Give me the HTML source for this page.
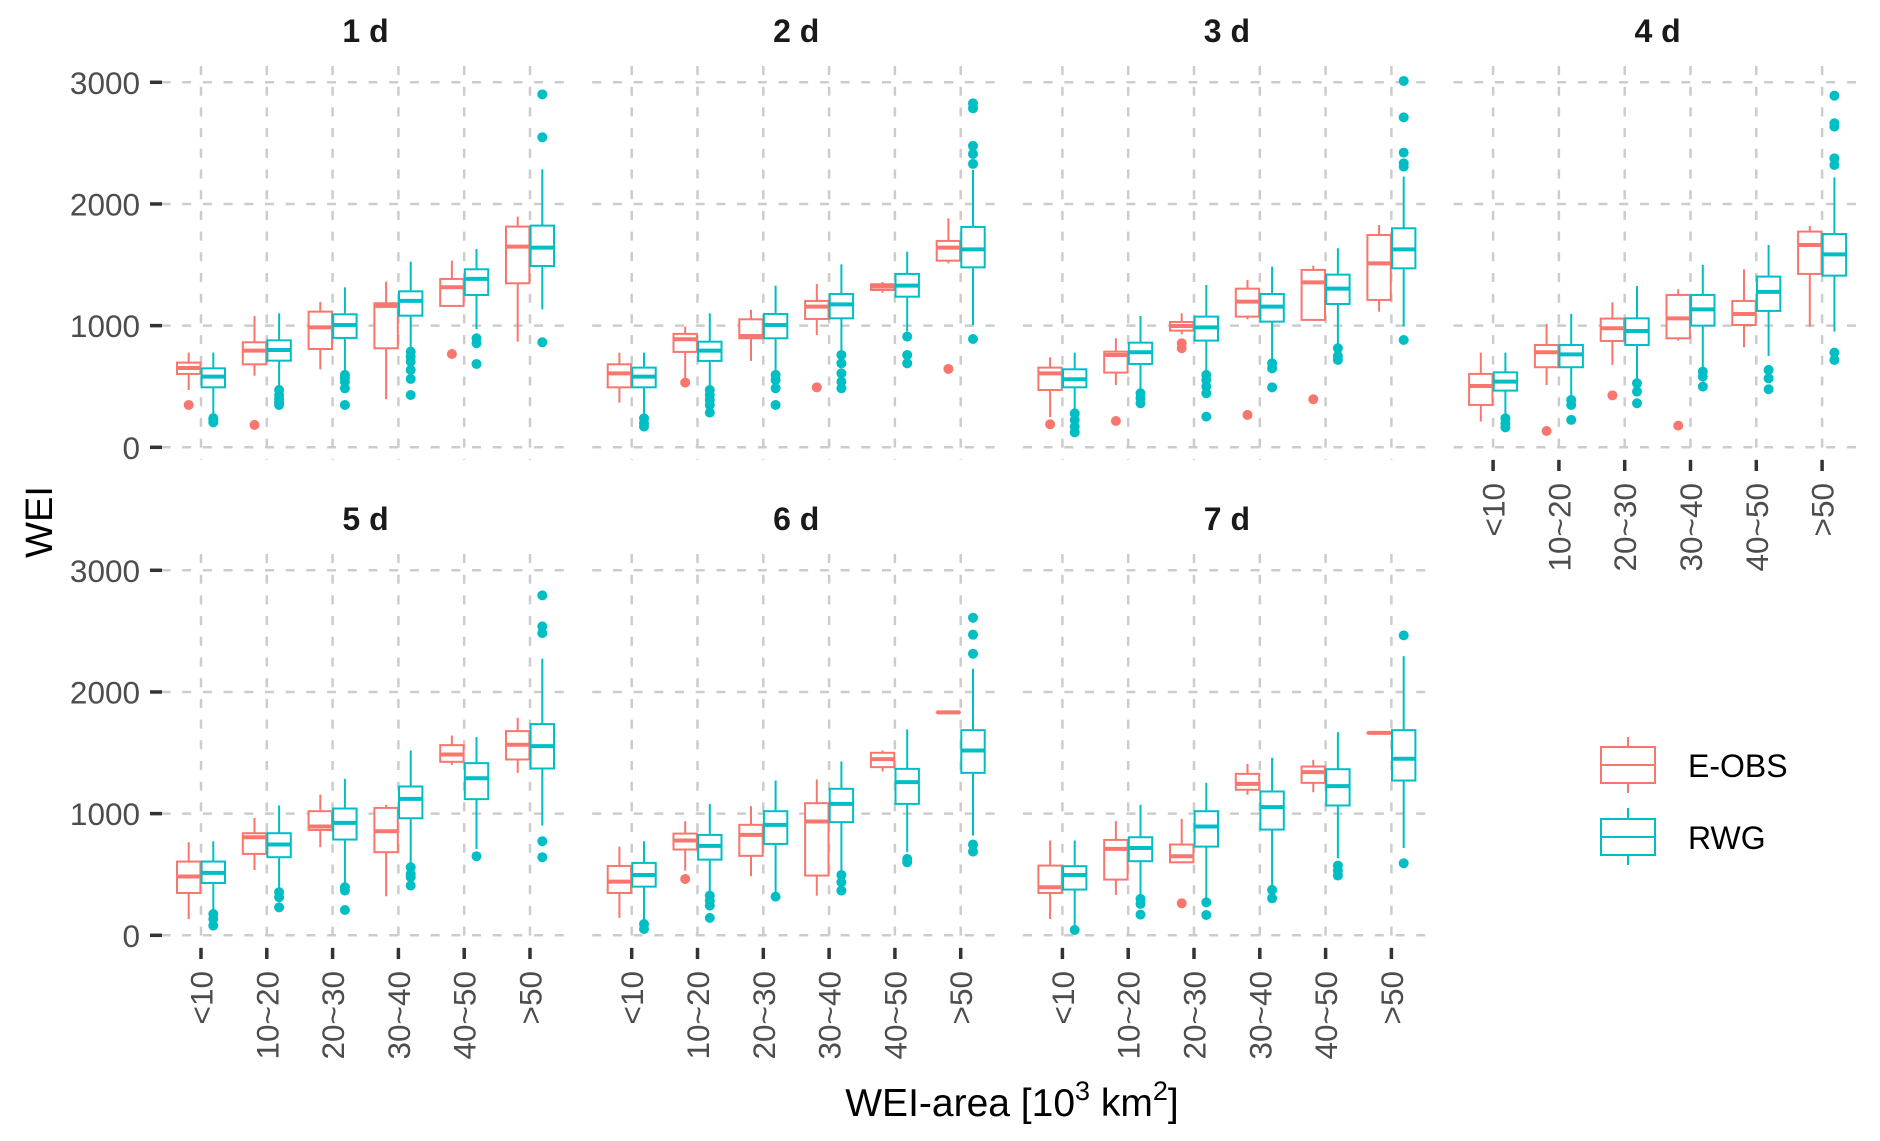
<!DOCTYPE html>
<html><head><meta charset="utf-8"><title>WEI boxplots</title>
<style>
html,body{margin:0;padding:0;background:#fff;}
svg{display:block;font-family:"Liberation Sans",Arial,sans-serif;}
</style></head>
<body>
<svg id="chart" xmlns="http://www.w3.org/2000/svg" width="1880" height="1141" viewBox="0 0 1880 1141">
<rect x="0" y="0" width="1880" height="1141" fill="#ffffff"/>
<g id="panels"></g>
<text x="42" y="522" transform="rotate(-90 42 522)" text-anchor="middle" dominant-baseline="middle" font-size="38" fill="#000">WEI</text>
<text x="1012" y="1116" text-anchor="middle" font-size="39" fill="#000">WEI-area [10<tspan dy="-16" font-size="27">3</tspan><tspan dy="16"> km</tspan><tspan dy="-16" font-size="27">2</tspan><tspan dy="16">]</tspan></text>
<g>
  <g>
    <line x1="1628" y1="737" x2="1628" y2="793" stroke="#F8766D" stroke-width="2"/>
    <rect x="1601" y="747" width="54" height="36" fill="#fff" stroke="#F8766D" stroke-width="2"/>
    <line x1="1601" y1="765" x2="1655" y2="765" stroke="#F8766D" stroke-width="2"/>
    <text x="1688" y="777" font-size="32" fill="#000">E-OBS</text>
  </g>
  <g>
    <line x1="1628" y1="808" x2="1628" y2="865" stroke="#00BFC4" stroke-width="2"/>
    <rect x="1601" y="819" width="54" height="36" fill="#fff" stroke="#00BFC4" stroke-width="2"/>
    <line x1="1601" y1="837" x2="1655" y2="837" stroke="#00BFC4" stroke-width="2"/>
    <text x="1688" y="849" font-size="32" fill="#000">RWG</text>
  </g>
</g>
</svg>
<script>
const panelTitles = ["1 d","2 d","3 d","4 d","5 d","6 d","7 d"];
const categories = ["<10","10~20","20~30","30~40","40~50",">50"];
const yTicks = [0,1000,2000,3000];
const yTickLabels = ["0","1000","2000","3000"];

// E-OBS stats per panel: [lowerWhisker, q1, median, q3, upperWhisker] per category
const eobsLow = [[471,589,641,395,1162,868],[367,567,710,923,1271,1512],[247,512,929,1052,1047,1115],[211,512,677,877,822,992],[134,537,724,321,1401,1335],[143,532,485,326,1346,1832],[134,332,600,1155,1176,1664]];
const eobsQ1 = [[603,682,808,814,1162,1348],[493,784,896,1055,1293,1534],[471,614,959,1074,1047,1211],[348,658,874,896,1005,1425],[348,669,866,683,1426,1445],[348,705,653,491,1382,1832],[348,458,600,1196,1253,1664]];
const eobsMed = [[652,795,986,1162,1315,1649],[608,888,915,1156,1321,1641],[608,759,997,1197,1356,1512],[504,781,978,1060,1096,1663],[483,806,894,855,1486,1566],[441,779,825,935,1448,1832],[395,710,650,1245,1341,1664]];
const eobsQ3 = [[696,863,1115,1184,1384,1814],[682,932,1052,1203,1340,1696],[655,786,1030,1304,1458,1745],[603,841,1058,1252,1203,1773],[606,839,1020,1047,1563,1678],[570,836,908,1086,1500,1832],[573,784,746,1327,1387,1664]];
const eobsHigh = [[778,1079,1195,1362,1534,1896],[778,992,1129,1342,1359,1882],[740,896,1101,1375,1493,1827],[778,1014,1192,1299,1463,1819],[765,965,1157,1072,1642,1788],[729,938,1061,1281,1519,1832],[779,938,957,1409,1442,1664]];
const eobsOut = [[[348],[184],[],[],[767],[]],[[],[532],[],[493],[],[644]],[[189],[216],[855,814],[266],[395],[]],[[],[134],[427],[178],[],[]],[[],[],[],[],[],[]],[[],[463],[],[],[],[]],[[],[],[263],[],[],[]]];

// RWG stats per panel
const rwgLow = [[266,499,622,814,970,1134],[250,490,600,780,951,1005],[300,460,610,720,840,992],[255,405,540,640,751,951],[200,380,420,580,710,902],[110,345,340,520,683,820],[60,320,290,400,633,718]];
const rwgQ1 = [[493,712,899,1082,1252,1490],[493,710,896,1060,1238,1479],[493,685,877,1033,1178,1471],[466,658,841,1000,1121,1411],[430,642,787,962,1119,1371],[400,622,751,930,1080,1335],[376,609,729,869,1067,1272]];
const rwgMed = [[581,800,1005,1203,1384,1641],[581,795,1005,1175,1329,1627],[559,781,986,1156,1304,1627],[540,764,956,1134,1277,1586],[513,746,924,1121,1291,1555],[496,735,908,1080,1259,1519],[496,718,894,1053,1226,1451]];
const rwgQ3 = [[649,879,1093,1282,1463,1822],[655,868,1096,1260,1425,1811],[641,860,1074,1260,1419,1800],[616,841,1060,1252,1403,1753],[606,839,1042,1223,1415,1736],[595,825,1020,1204,1368,1686],[568,806,1020,1182,1365,1686]];
const rwgHigh = [[778,1101,1315,1526,1630,2285],[778,1101,1329,1504,1608,2279],[778,1079,1334,1485,1636,2225],[778,1096,1326,1499,1663,2219],[773,1067,1286,1519,1629,2273],[773,1080,1272,1429,1692,2191],[779,1072,1253,1459,1670,2295]];
const rwgOut = [
 [[240,225,205],[471,430,400,370,348],[595,570,540,485,348],[786,745,704,636,562,430],[896,855,685],[2901,2548,863]],
 [[238,197,170],[471,430,389,348,285],[595,553,485,348],[759,690,608,540,485],[910,759,690],[2827,2786,2477,2411,2329,890]],
 [[279,225,170,123],[444,403,362],[595,553,499,444,252],[690,649,493],[814,751,718],[3011,2712,2422,2334,2307,882]],
 [[238,197,164],[389,348,225],[526,458,362],[622,581,499],[636,567,477],[2890,2663,2636,2375,2321,778,718]],
 [[175,134,80],[354,313,230],[395,367,208],[559,505,477,409],[650],[2794,2539,2484,773,642]],
 [[93,52],[326,285,244,143],[318],[496,436,367],[628,600],[2610,2471,2314,746,688]],
 [[44],[299,258,170],[271,167],[373,304],[573,532,491],[2465,592]]
];

const NS = "http://www.w3.org/2000/svg";
const RED = "#F8766D", CYAN = "#00BFC4", GRID = "#cccccc";
const PANEL_LEFT0 = 161.5, PANEL_STEP = 430.7, PANEL_W = 408, CAT_STEP = 65.8;
const ROW_OFF = 488, Y0 = 447.3, YSCALE = 0.12167;
const PANEL_TOP = 64, PANEL_BOT = 460;

function mk(tag, attrs, parent) {
  const e = document.createElementNS(NS, tag);
  for (const k in attrs) e.setAttribute(k, attrs[k]);
  parent.appendChild(e);
  return e;
}
function panelPos(p) { return { col: p < 4 ? p : p - 4, row: p < 4 ? 0 : 1 }; }
function xScale(p, c) { const pp = panelPos(p); return PANEL_LEFT0 + pp.col * PANEL_STEP + 39.5 + c * CAT_STEP; }
function yScale(p, v) { const pp = panelPos(p); return Y0 + pp.row * ROW_OFF - v * YSCALE; }

const root = document.getElementById("panels");

function drawBox(g, p, c, off, color, lo, q1, md, q3, hi, outs, series) {
  const cx = xScale(p, c) + off, hw = 11.7;
  const box = mk("g", {}, g);
  
  
  mk("line", {x1: cx, x2: cx, y1: yScale(p, hi), y2: yScale(p, q3), stroke: color, "stroke-width": 2}, box);
  mk("line", {x1: cx, x2: cx, y1: yScale(p, q1), y2: yScale(p, lo), stroke: color, "stroke-width": 2}, box);
  const top = yScale(p, q3), bot = yScale(p, q1);
  mk("rect", {x: cx - hw, y: top, width: 2 * hw, height: Math.max(0.01, bot - top), fill: "#fff", stroke: color, "stroke-width": 2}, box);
  mk("line", {x1: cx - hw, x2: cx + hw, y1: yScale(p, md), y2: yScale(p, md), stroke: color, "stroke-width": 4}, box);
  outs.forEach(function (v) {
    const o = mk("circle", {cx: cx, cy: yScale(p, v), r: 5, fill: color}, box);
    
    
  });
}

for (let p = 0; p < 7; p++) {
  const pp = panelPos(p);
  const left = PANEL_LEFT0 + pp.col * PANEL_STEP;
  const top = PANEL_TOP + pp.row * ROW_OFF, bot = PANEL_BOT + pp.row * ROW_OFF;
  const g = mk("g", {}, root);
  
  
  const t = mk("text", {x: left + PANEL_W / 2, y: 42 + pp.row * ROW_OFF, "text-anchor": "middle", "font-size": 32, "font-weight": "bold", fill: "#1a1a1a"}, g);
  t.textContent = panelTitles[p];
  
  
  yTicks.forEach(function (v) {
    const y = yScale(p, v);
    const l = mk("line", {x1: left, x2: left + PANEL_W, y1: y, y2: y, stroke: GRID, "stroke-width": 2.5, "stroke-dasharray": "9 11.7"}, g);
    
    
  });
  categories.forEach(function (c, i) {
    const x = xScale(p, i);
    const l = mk("line", {x1: x, x2: x, y1: top + 2, y2: bot, stroke: GRID, "stroke-width": 2.5, "stroke-dasharray": "9 11.7"}, g);
    
    
  });
  if (pp.col === 0) {
    yTicks.forEach(function (v, i) {
      const y = yScale(p, v);
      mk("line", {x1: 150, x2: 162, y1: y, y2: y, stroke: "#333", "stroke-width": 3.5}, g);
      const tl = mk("text", {x: 140, y: y + 11.5, "text-anchor": "end", "font-size": 31.5, fill: "#4d4d4d"}, g);
      tl.textContent = yTickLabels[i];
      
      
    });
  }
  if (p >= 3) {
    categories.forEach(function (c, i) {
      const x = xScale(p, i);
      mk("line", {x1: x, x2: x, y1: bot, y2: bot + 11, stroke: "#333", "stroke-width": 3.5}, g);
      const ly = bot + 23;
      const tl = mk("text", {x: x + 11.5, y: ly, transform: "rotate(-90 " + (x + 11.5) + " " + ly + ")", "text-anchor": "end", "font-size": 31.5, fill: "#4d4d4d"}, g);
      tl.textContent = c;
      
      
    });
  }
  for (let c = 0; c < 6; c++) {
    drawBox(g, p, c, -12.3, RED, eobsLow[p][c], eobsQ1[p][c], eobsMed[p][c], eobsQ3[p][c], eobsHigh[p][c], eobsOut[p][c], 'eobs');
    drawBox(g, p, c, 12.3, CYAN, rwgLow[p][c], rwgQ1[p][c], rwgMed[p][c], rwgQ3[p][c], rwgHigh[p][c], rwgOut[p][c], 'rwg');
  }
}
</script>
</body></html>
